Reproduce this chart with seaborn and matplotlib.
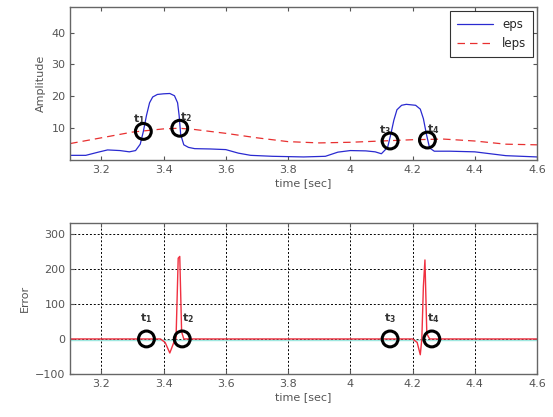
import matplotlib
matplotlib.use('Agg')
import matplotlib.pyplot as plt
import pandas as pd
import seaborn as sns

# top panel: eps (envelope) and leps (threshold)
eps_t = [3.10, 3.15, 3.19, 3.22, 3.26, 3.29, 3.31, 3.325, 3.335, 3.345, 3.355, 3.365, 3.38, 3.40, 3.42, 3.435, 3.445, 3.45,
         3.455, 3.465, 3.48, 3.50, 3.55, 3.60, 3.64, 3.68, 3.75, 3.85, 3.92, 3.96, 4.00, 4.05, 4.08, 4.10, 4.12, 4.13,
         4.14, 4.15, 4.165, 4.18, 4.21, 4.225, 4.235, 4.245, 4.255, 4.27, 4.32, 4.40, 4.45, 4.50, 4.55, 4.60]
eps_v = [1.5, 1.5, 2.5, 3.2, 3.0, 2.6, 3.0, 5.0, 9.0, 14.0, 18.0, 19.8, 20.6, 20.8, 20.9, 20.2, 18.0, 14.0,
         8.0, 4.8, 4.0, 3.6, 3.5, 3.3, 2.2, 1.5, 1.2, 1.0, 1.2, 2.5, 3.0, 2.9, 2.6, 2.0, 4.0, 8.0,
         12.5, 15.8, 17.2, 17.5, 17.2, 16.0, 13.0, 8.0, 3.8, 2.8, 2.8, 2.6, 2.0, 1.4, 1.2, 1.0]
leps_t = [3.10, 3.20, 3.30, 3.40, 3.45, 3.50, 3.60, 3.70, 3.80, 3.90, 4.00, 4.10, 4.20, 4.30, 4.40, 4.50, 4.60]
leps_v = [5.2, 7.0, 8.8, 9.8, 10.0, 9.6, 8.4, 7.0, 5.8, 5.4, 5.6, 6.0, 6.4, 6.6, 6.0, 5.0, 4.8]

# bottom panel: error signal
err_t = [3.10, 3.39, 3.405, 3.42, 3.435, 3.44, 3.447, 3.452, 3.458, 3.465, 4.20, 4.215, 4.225, 4.23,
         4.235, 4.24, 4.246, 4.255, 4.60]
err_v = [0, 0, -10, -40, -5, 0, 230, 235, 20, 0, 0, -10, -45, 0, 150, 225, 15, 0, 0]

# event markers t1..t4
ev_labels = ['$\\mathbf{t_1}$', '$\\mathbf{t_2}$', '$\\mathbf{t_3}$', '$\\mathbf{t_4}$']
ev_top_t = [3.335, 3.452, 4.128, 4.248]
ev_top_v = [9.0, 10.0, 6.0, 6.3]
ev_bot_t = [3.345, 3.46, 4.128, 4.262]
ev_bot_v = [0, 0, 0, 0]

sns.set_style("ticks")
plt.rcParams['font.family'] = ['DejaVu Sans']
plt.rcParams['xtick.direction'] = 'in'
plt.rcParams['ytick.direction'] = 'in'

fig = plt.figure(figsize=(5.53, 4.17), dpi=100)
ax1 = fig.add_axes([0.127, 0.616, 0.844, 0.367])
ax2 = fig.add_axes([0.127, 0.103, 0.844, 0.362])

grey = '#555555'
eps_df = pd.DataFrame({'t': eps_t, 'v': eps_v})
leps_df = pd.DataFrame({'t': leps_t, 'v': leps_v})
sns.lineplot(data=eps_df, x='t', y='v', ax=ax1, color='#2a2ad0', lw=0.9, label='eps')
sns.lineplot(data=leps_df, x='t', y='v', ax=ax1, color='#e83030', lw=0.9, dashes=(6, 4), label='leps')
sns.scatterplot(x=ev_top_t, y=ev_top_v, ax=ax1, s=130, facecolor='none', edgecolor='black', linewidth=2.2, zorder=5)
offs = [(-0.015, 3.8), (0.02, 3.5), (-0.015, 3.5), (0.02, 3.5)]
for lab, t, v, (dx, dy) in zip(ev_labels, ev_top_t, ev_top_v, offs):
    ax1.text(t + dx, v + dy, lab, fontsize=8, color='#333333', ha='center', va='center')

ax1.set_xlim(3.1, 4.6)
ax1.set_ylim(0, 48)
ax1.set_yticks([10, 20, 30, 40])
ax1.set_xticks([3.2, 3.4, 3.6, 3.8, 4.0, 4.2, 4.4, 4.6])
ax1.set_xticklabels(['3.2', '3.4', '3.6', '3.8', '4', '4.2', '4.4', '4.6'])
ax1.set_xlabel('time [sec]', fontsize=8, color=grey, labelpad=2)
ax1.set_ylabel('Amplitude', fontsize=8, color=grey, labelpad=4)
leg = ax1.legend(loc='upper right', fontsize=8.5, frameon=True, fancybox=False, edgecolor='black',
                 handlelength=3.0, borderpad=0.6, labelspacing=0.55, borderaxespad=0.3)
leg.get_frame().set_linewidth(0.8)

err_df = pd.DataFrame({'t': err_t, 'v': err_v})
ax2.axhline(-3, color='#9ee8e0', lw=1.0, zorder=1)
sns.lineplot(data=err_df, x='t', y='v', ax=ax2, color='#f03040', lw=1.0, zorder=2)
sns.scatterplot(x=ev_bot_t, y=ev_bot_v, ax=ax2, s=130, facecolor='none', edgecolor='black', linewidth=2.2, zorder=5)
offs2 = [(0.0, 60), (0.018, 60), (0.0, 60), (0.005, 60)]
for lab, t, v, (dx, dy) in zip(ev_labels, ev_bot_t, ev_bot_v, offs2):
    ax2.text(t + dx, v + dy, lab, fontsize=8, color='#333333', ha='center', va='center')

ax2.set_xlim(3.1, 4.6)
ax2.set_ylim(-100, 330)
ax2.set_yticks([-100, 0, 100, 200, 300])
ax2.set_xticks([3.2, 3.4, 3.6, 3.8, 4.0, 4.2, 4.4, 4.6])
ax2.set_xticklabels(['3.2', '3.4', '3.6', '3.8', '4', '4.2', '4.4', '4.6'])
ax2.grid(True, color='black', linestyle=(0, (2, 2)), linewidth=0.7)
ax2.set_xlabel('time [sec]', fontsize=8, color=grey, labelpad=2)
ax2.set_ylabel('Error', fontsize=8, color=grey, labelpad=4)

for ax in (ax1, ax2):
    ax.tick_params(labelsize=8, colors=grey, top=True, right=True, length=3, width=0.8)
    for s in ax.spines.values():
        s.set_visible(True)
        s.set_color('#666666')
        s.set_linewidth(1.0)

fig.savefig('out.png', dpi=100, facecolor='white')
